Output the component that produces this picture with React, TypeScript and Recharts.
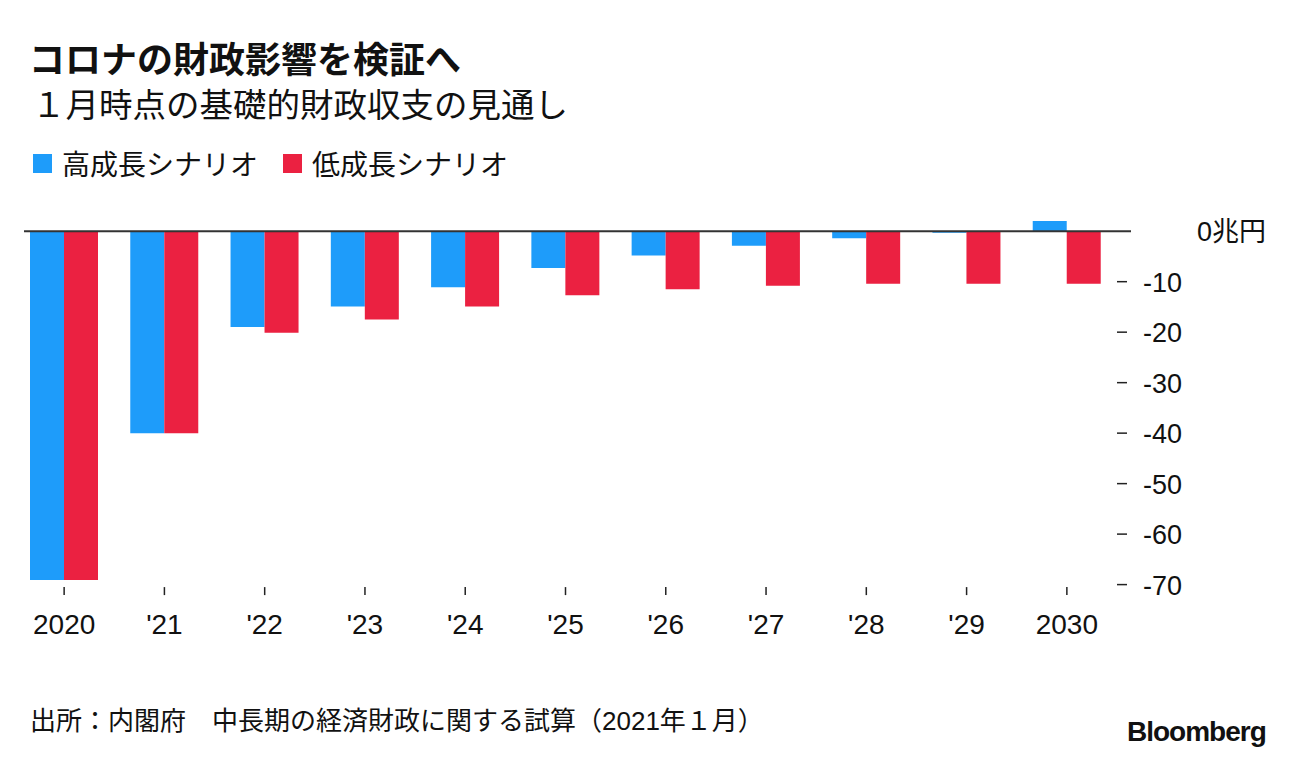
import React from 'react';
import { BarChart, Bar, XAxis, YAxis, ReferenceLine } from 'recharts';

const categories = ['2020', "'21", "'22", "'23", "'24", "'25", "'26", "'27", "'28", "'29", '2030'];
const highGrowth = [-69.1, -40.0, -19.0, -14.9, -11.1, -7.3, -4.8, -2.9, -1.4, -0.3, 2.0];
const lowGrowth = [-69.1, -40.0, -20.1, -17.5, -14.9, -12.7, -11.5, -10.8, -10.4, -10.4, -10.4];
const yTicks = [0, -10, -20, -30, -40, -50, -60, -70];
const seriesNames = ['高成長シナリオ', '低成長シナリオ'];
const seriesColors = ['#1e9cfa', '#eb2141'];
const zeroLabel = '0兆円';
const titleText = 'コロナの財政影響を検証へ';
const subtitleText = '１月時点の基礎的財政収支の見通し';
const sourceText = '出所：内閣府　中長期の経済財政に関する試算（2021年１月）';

const data = categories.map((c, i) => ({ name: c, high: highGrowth[i], low: lowGrowth[i] }));

const FONT = "'Liberation Sans', Arial, 'Noto Sans CJK JP', sans-serif";
const XTICK_FS = 28;
const YTICK_FS = 27;

const XTick = (props: any) => {
  const { x, y, payload } = props;
  return (
    <g>
      <line x1={x} x2={x} y1={y + 2.5} y2={y + 10.5} stroke="#222" strokeWidth={1.5} />
      <text x={x} y={y + 49} textAnchor="middle" fontSize={XTICK_FS} fill="#111" fontFamily={FONT}>
        {payload.value}
      </text>
    </g>
  );
};

const YTick = (props: any) => {
  const { x, y, payload } = props;
  const isZero = payload.value === 0;
  return (
    <g>
      {!isZero && <line x1={x} x2={x + 10} y1={y} y2={y} stroke="#222" strokeWidth={1.5} />}
      <text
        x={isZero ? x + 80 : x + 26}
        y={y + 1}
        dominantBaseline="central"
        textAnchor="start"
        fontSize={YTICK_FS}
        fill="#111"
        fontFamily={FONT}
      >
        {isZero ? zeroLabel : String(payload.value)}
      </text>
    </g>
  );
};

const ZeroLine = (p: any) => (
  <line x1={p.x1 + 14} y1={p.y1} x2={p.x2 + 10} y2={p.y2} stroke="#333" strokeWidth={2} />
);

export default function App() {
  return (
    <div style={{ position: 'absolute', left: 0, top: 0, width: 1296, height: 760, background: '#fff', fontFamily: FONT, color: '#111' }}>
      <div style={{ position: 'absolute', left: 29, top: 43, fontSize: 36, fontWeight: 700, lineHeight: '36px', whiteSpace: 'nowrap' }}>
        {titleText}
      </div>
      <div style={{ position: 'absolute', left: 32, top: 89, fontSize: 33.5, fontWeight: 400, lineHeight: '34px', whiteSpace: 'nowrap' }}>
        {subtitleText}
      </div>
      <div style={{ position: 'absolute', left: 33, top: 149, height: 28, display: 'flex', alignItems: 'center', fontSize: 28, whiteSpace: 'nowrap' }}>
        <span style={{ display: 'inline-block', width: 19, height: 19, background: seriesColors[0], marginRight: 10 }} />
        <span style={{ marginRight: 25 }}>{seriesNames[0]}</span>
        <span style={{ display: 'inline-block', width: 19, height: 19, background: seriesColors[1], marginRight: 10 }} />
        <span>{seriesNames[1]}</span>
      </div>
      <div style={{ position: 'absolute', left: 0, top: 0 }}>
        <BarChart
          width={1296}
          height={760}
          data={data}
          margin={{ top: 211, right: 19, bottom: 115.4, left: 14 }}
          barGap={0}
        >
          <XAxis
            dataKey="name"
            axisLine={false}
            tickLine={false}
            tickSize={0}
            tickMargin={0}
            height={60}
            interval={0}
            tick={<XTick />}
          />
          <YAxis
            orientation="right"
            domain={[-70, 4]}
            ticks={yTicks}
            axisLine={false}
            tickLine={false}
            tickSize={0}
            tickMargin={0}
            width={160}
            interval={0}
            tick={<YTick />}
          />
          <Bar dataKey="high" name={seriesNames[0]} fill={seriesColors[0]} barSize={34} isAnimationActive={false} />
          <Bar dataKey="low" name={seriesNames[1]} fill={seriesColors[1]} barSize={34} isAnimationActive={false} />
          <ReferenceLine y={0} shape={ZeroLine} />
        </BarChart>
      </div>
      <div style={{ position: 'absolute', left: 30, top: 706, fontSize: 26, lineHeight: '30px', whiteSpace: 'nowrap' }}>
        {sourceText}
      </div>
      <div style={{ position: 'absolute', left: 1127, top: 717, fontSize: 28, fontWeight: 700, letterSpacing: -1, lineHeight: '30px', whiteSpace: 'nowrap' }}>
        Bloomberg
      </div>
    </div>
  );
}
